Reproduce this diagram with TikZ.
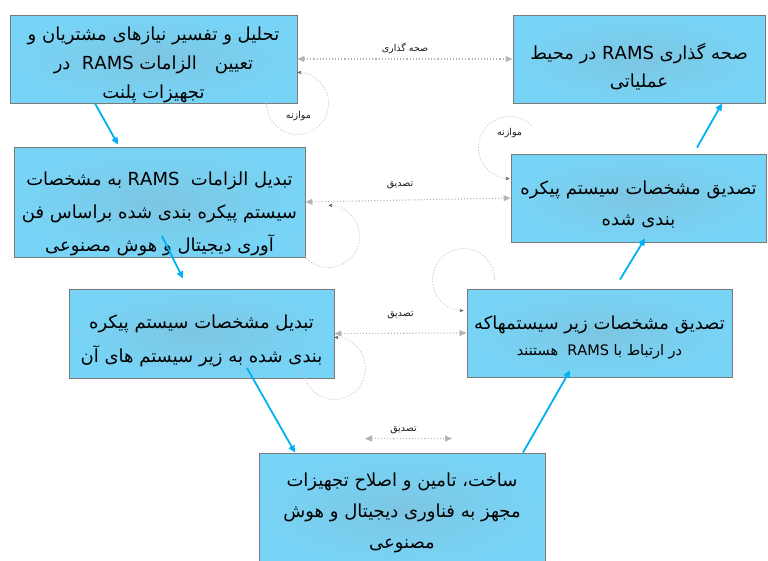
\documentclass[tikz,border=0pt]{standalone}
\usepackage{fontspec}
\usepackage{tikz}
\usetikzlibrary{arrows.meta, positioning, calc}
\TeXXeTstate=1
\newfontfamily\arabicfont[Script=Arabic]{DejaVu Sans}
\definecolor{boxin}{HTML}{7CC6E3}
\definecolor{boxout}{HTML}{78D4F6}
\definecolor{boxedge}{HTML}{7A7A7A}
\definecolor{flowc}{HTML}{00B0F0}
\definecolor{dotc}{HTML}{B4B4B4}
\definecolor{loopc}{HTML}{C4C4C4}
\newcommand{\fatxt}[1]{{\arabicfont\beginR #1\endR}}
\newcommand{\topstrut}[1]{\rule{0pt}{#1}}

\begin{document}
\begin{tikzpicture}[x=1pt, y=1pt, line width=0.6pt,
    stage/.style={rectangle, draw=boxedge, line width=0.9pt,
                  inner color=boxin, outer color=boxout, inner sep=0pt,
                  align=center, font=\fontsize{18}{31}\selectfont},
    flow/.style={-{Triangle[length=7pt, width=6.5pt]}, flowc, line width=1.8pt},
    check/.style={{Triangle[length=7pt, width=6pt, color=dotc]}-{Triangle[length=7pt, width=6pt, color=dotc]},
                  dotc, dotted, line width=1.1pt},
    balance/.style={-{Stealth[length=4pt, width=3.5pt, color=black!65]},
                    loopc, dash pattern=on 1.5pt off 1.5pt, line width=0.6pt},
    lbl/.style={font=\fontsize{9.5}{11}\selectfont, text=black!90, inner sep=1pt}]
  \useasboundingbox (0,0) rectangle (768,-560);

  % left leg
  \node[stage, minimum width=287pt, minimum height=88pt, text depth=0pt,
        font=\fontsize{18}{29}\selectfont] (b1) at (153.5,-59)
    {\topstrut{20pt}\fatxt{تحلیل و تفسیر نیازهای مشتریان و}\\
     \fatxt{تعیین\quad الزامات RAMS\ \ در}\\
     \fatxt{تجهیزات پلنت}};
  \node[stage, minimum width=291pt, minimum height=110pt,
        font=\fontsize{18}{33}\selectfont] (b3) at (159.5,-202)
    {\topstrut{38pt}\fatxt{تبدیل الزامات\ \ RAMS به مشخصات}\\
     \fatxt{سیستم پیکره بندی شده براساس فن}\\
     \fatxt{آوری دیجیتال و هوش مصنوعی}};
  \node[stage, minimum width=265pt, minimum height=89pt,
        font=\fontsize{18}{34}\selectfont] (b5) at (201.5,-333.5)
    {\topstrut{28pt}\fatxt{تبدیل مشخصات سیستم پیکره}\\
     \fatxt{بندی شده به زیر سیستم های آن}};
  % bottom
  \node[stage, minimum width=286pt, minimum height=114pt] (b7) at (402,-510)
    {\topstrut{20pt}\fatxt{ساخت، تامین و اصلاح تجهیزات}\\
     \fatxt{مجهز به فناوری دیجیتال و هوش}\\
     \fatxt{مصنوعی}};
  % right leg
  \node[stage, minimum width=265pt, minimum height=88pt,
        font=\fontsize{18}{26}\selectfont] (b6) at (599.5,-333)
    {\topstrut{22pt}\fatxt{تصدیق مشخصات زیر سیستمهاکه}\\
     {\fontsize{14.5}{15}\selectfont\fatxt{در ارتباط با RAMS\ \ هستنند}}};
  \node[stage, minimum width=255pt, minimum height=88pt] (b4) at (638.5,-198)
    {\topstrut{27pt}\fatxt{تصدیق مشخصات سیستم پیکره}\\
     \fatxt{بندی شده}};
  \node[stage, minimum width=252pt, minimum height=88pt,
        font=\fontsize{18}{28}\selectfont] (b2) at (639,-59)
    {\topstrut{32pt}\fatxt{صحه گذاری RAMS در محیط}\\
     \fatxt{عملیاتی}};

  % main flow
  \draw[flow] ([xshift=-58.5pt]b1.south) -- ([shift={(-41.5pt,2pt)}]b3.north);
  \draw[flow] ([shift={(2.5pt,-34pt)}]b3.center) -- ([shift={(-18.5pt,10pt)}]b5.north);
  \draw[flow] ([shift={(45.5pt,-34.5pt)}]b5.center) -- ([xshift=-107pt]b7.north);
  \draw[flow] ([xshift=121pt]b7.north) -- ([shift={(-29.5pt,7pt)}]b6.south);
  \draw[flow] ([shift={(20.5pt,9pt)}]b6.north) -- ([shift={(6.5pt,4pt)}]b4.south);
  \draw[flow] ([shift={(58.5pt,6pt)}]b4.north) -- ([xshift=83pt]b2.south);

  % checks between the legs
  \coordinate (c1) at ([shift={(-37pt,14pt)}]b7.north);
  \coordinate (c2) at ([shift={(50pt,14pt)}]b7.north);
  \draw[check] (b1.east) -- node[lbl, above=4pt] (l1) {\fatxt{صحه گذاری}} (b2.west);
  \draw[check] (b3.east) -- node[lbl, above=10pt, xshift=-8pt] (l2) {\fatxt{تصدیق}} (b4.west);
  \draw[check] (b5.east) -- node[lbl, above=13pt] (l3) {\fatxt{تصدیق}} (b6.west);
  \draw[check] (c1) -- node[lbl, above=3pt, xshift=-5pt] (l4) {\fatxt{تصدیق}} (c2);

  % self loops
  \draw[balance] ([xshift=-31pt]b1.south east) arc[start angle=180, end angle=450, radius=31pt];
  \draw[balance] ([shift={(-8pt,21pt)}]b3.south east) arc[start angle=180, end angle=450, radius=31pt];
  \draw[balance] ([shift={(-31pt,10pt)}]b5.south east) arc[start angle=180, end angle=450, radius=31pt];
  \draw[balance] ([shift={(20.9pt,27.9pt)}]b4.north west) arc[start angle=45, end angle=270, radius=31pt];
  \draw[balance] ([shift={(28pt,9pt)}]b6.north west) arc[start angle=0, end angle=270, radius=31pt];
  \node[lbl] (m1) at ([shift={(1pt,-13pt)}]b1.south east) {\fatxt{موازنه}};
  \node[lbl] (m2) at ([shift={(-1pt,21pt)}]b4.north west) {\fatxt{موازنه}};
\end{tikzpicture}
\end{document}
